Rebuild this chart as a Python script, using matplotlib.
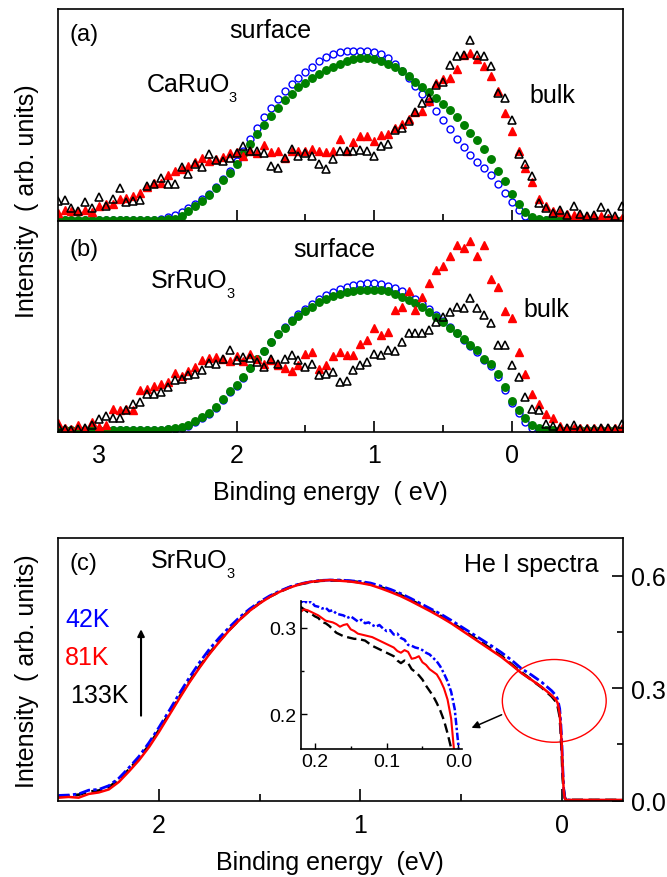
import matplotlib
matplotlib.use("Agg")
import matplotlib.pyplot as plt
from matplotlib.patches import Ellipse
from matplotlib.ticker import FixedLocator, NullLocator

plt.rcParams['font.family'] = ['Liberation Sans', 'DejaVu Sans']
plt.rcParams['axes.linewidth'] = 1.2

# ---------------- panels (a) and (b): decomposed spectra ----------------
energy_ab = [3.30, 3.25, 3.20, 3.15, 3.10, 3.05, 3.00, 2.95, 2.90, 2.85,
             2.80, 2.75, 2.70, 2.65, 2.60, 2.55, 2.50, 2.45, 2.40, 2.35,
             2.30, 2.25, 2.20, 2.15, 2.10, 2.05, 2.00, 1.95, 1.90, 1.85,
             1.80, 1.75, 1.70, 1.65, 1.60, 1.55, 1.50, 1.45, 1.40, 1.35,
             1.30, 1.25, 1.20, 1.15, 1.10, 1.05, 1.00, 0.95, 0.90, 0.85,
             0.80, 0.75, 0.70, 0.65, 0.60, 0.55, 0.50, 0.45, 0.40, 0.35,
             0.30, 0.25, 0.20, 0.15, 0.10, 0.05, 0.00, -0.05, -0.10, -0.15,
             -0.20, -0.25, -0.30, -0.35, -0.40, -0.45, -0.50, -0.55, -0.60, -0.65,
             -0.70, -0.75, -0.80]

# CaRuO3
ca_surface_open = [0.002, 0.002, 0.002, 0.002, 0.002, 0.002, 0.002, 0.002, 0.002, 0.002,
                   0.002, 0.002, 0.002, 0.002, 0.003, 0.005, 0.016, 0.028, 0.041, 0.057,
                   0.076, 0.100, 0.126, 0.158, 0.194, 0.234, 0.281, 0.329, 0.384, 0.436,
                   0.487, 0.531, 0.573, 0.610, 0.645, 0.676, 0.703, 0.728, 0.752, 0.771,
                   0.787, 0.798, 0.802, 0.803, 0.803, 0.803, 0.799, 0.787, 0.768, 0.739,
                   0.708, 0.673, 0.637, 0.597, 0.561, 0.518, 0.476, 0.431, 0.387, 0.348,
                   0.310, 0.278, 0.246, 0.215, 0.171, 0.128, 0.088, 0.052, 0.020, 0.005,
                   0.002, 0.002, 0.002, 0.002, 0.002, 0.002, 0.002, 0.002, 0.002, 0.002,
                   0.002, 0.002, 0.002]
ca_surface_fill = [0.004, 0.004, 0.004, 0.004, 0.004, 0.004, 0.004, 0.004, 0.004, 0.004,
                   0.004, 0.004, 0.004, 0.004, 0.004, 0.004, 0.005, 0.008, 0.019, 0.044,
                   0.068, 0.092, 0.120, 0.152, 0.190, 0.226, 0.269, 0.313, 0.360, 0.408,
                   0.452, 0.494, 0.534, 0.569, 0.600, 0.629, 0.652, 0.676, 0.695, 0.712,
                   0.727, 0.739, 0.755, 0.763, 0.766, 0.766, 0.763, 0.755, 0.742, 0.724,
                   0.705, 0.682, 0.657, 0.629, 0.608, 0.578, 0.550, 0.521, 0.487, 0.452,
                   0.415, 0.379, 0.336, 0.289, 0.234, 0.186, 0.126, 0.079, 0.041, 0.016,
                   0.008, 0.004, 0.004, 0.004, 0.004, 0.004, 0.004, 0.004, 0.004, 0.004,
                   0.004, 0.004, 0.004]
ca_bulk_fill = [0.036, 0.052, 0.047, 0.044, 0.052, 0.041, 0.068, 0.079, 0.076, 0.100,
                0.107, 0.115, 0.131, 0.158, 0.175, 0.178, 0.215, 0.234, 0.242, 0.258,
                0.276, 0.297, 0.281, 0.289, 0.300, 0.321, 0.325, 0.305, 0.329, 0.321,
                0.357, 0.324, 0.329, 0.297, 0.329, 0.329, 0.329, 0.336, 0.329, 0.326,
                0.329, 0.384, 0.329, 0.373, 0.400, 0.400, 0.376, 0.404, 0.408, 0.439,
                0.458, 0.479, 0.515, 0.518, 0.566, 0.651, 0.667, 0.676, 0.716, 0.784,
                0.790, 0.763, 0.730, 0.684, 0.610, 0.510, 0.423, 0.329, 0.246, 0.183,
                0.100, 0.068, 0.047, 0.041, 0.032, 0.025, 0.025, 0.022, 0.019, 0.019,
                0.013, 0.013, 0.013]
ca_bulk_open = [0.092, 0.095, 0.057, 0.044, 0.088, 0.057, 0.111, 0.068, 0.104, 0.155,
                0.088, 0.092, 0.096, 0.163, 0.174, 0.199, 0.171, 0.171, 0.253, 0.221,
                0.265, 0.253, 0.313, 0.288, 0.281, 0.294, 0.321, 0.352, 0.329, 0.329,
                0.321, 0.258, 0.250, 0.297, 0.336, 0.305, 0.321, 0.305, 0.265, 0.242,
                0.289, 0.329, 0.329, 0.329, 0.332, 0.329, 0.305, 0.352, 0.360, 0.427,
                0.439, 0.471, 0.515, 0.556, 0.581, 0.641, 0.657, 0.733, 0.780, 0.784,
                0.853, 0.784, 0.779, 0.730, 0.605, 0.578, 0.477, 0.316, 0.269, 0.210,
                0.084, 0.057, 0.036, 0.052, 0.028, 0.068, 0.032, 0.020, 0.028, 0.063,
                0.036, 0.020, 0.068]

# SrRuO3
sr_surface_open = [0.012, 0.012, 0.012, 0.012, 0.012, 0.012, 0.012, 0.012, 0.012, 0.012,
                   0.012, 0.012, 0.012, 0.012, 0.012, 0.012, 0.014, 0.017, 0.022, 0.032,
                   0.047, 0.066, 0.088, 0.114, 0.152, 0.188, 0.218, 0.258, 0.302, 0.344,
                   0.384, 0.426, 0.466, 0.499, 0.532, 0.560, 0.584, 0.605, 0.628, 0.646,
                   0.662, 0.675, 0.686, 0.694, 0.700, 0.703, 0.703, 0.700, 0.693, 0.680,
                   0.665, 0.645, 0.628, 0.607, 0.582, 0.553, 0.526, 0.497, 0.468, 0.438,
                   0.407, 0.380, 0.343, 0.312, 0.262, 0.200, 0.140, 0.090, 0.050, 0.022,
                   0.012, 0.010, 0.010, 0.010, 0.010, 0.010, 0.010, 0.010, 0.010, 0.010,
                   0.010, 0.010, 0.010]
sr_surface_fill = [0.012, 0.012, 0.012, 0.012, 0.012, 0.012, 0.012, 0.012, 0.012, 0.012,
                   0.012, 0.012, 0.012, 0.012, 0.012, 0.012, 0.016, 0.019, 0.025, 0.035,
                   0.051, 0.070, 0.092, 0.119, 0.158, 0.193, 0.222, 0.261, 0.304, 0.345,
                   0.383, 0.424, 0.462, 0.494, 0.525, 0.551, 0.573, 0.592, 0.614, 0.630,
                   0.642, 0.652, 0.661, 0.668, 0.672, 0.672, 0.671, 0.671, 0.665, 0.652,
                   0.639, 0.623, 0.609, 0.592, 0.570, 0.544, 0.522, 0.494, 0.467, 0.440,
                   0.411, 0.388, 0.348, 0.324, 0.275, 0.214, 0.150, 0.103, 0.066, 0.035,
                   0.019, 0.012, 0.012, 0.012, 0.012, 0.012, 0.012, 0.012, 0.012, 0.012,
                   0.012, 0.012, 0.012]
sr_bulk_fill = [0.044, 0.019, 0.016, 0.035, 0.016, 0.047, 0.024, 0.035, 0.108, 0.103,
                0.108, 0.103, 0.198, 0.206, 0.218, 0.229, 0.237, 0.282, 0.266, 0.288,
                0.309, 0.340, 0.351, 0.356, 0.348, 0.335, 0.361, 0.335, 0.372, 0.345,
                0.324, 0.340, 0.316, 0.304, 0.288, 0.316, 0.372, 0.380, 0.300, 0.316,
                0.361, 0.380, 0.364, 0.364, 0.415, 0.435, 0.491, 0.459, 0.475, 0.578,
                0.593, 0.665, 0.578, 0.641, 0.704, 0.767, 0.783, 0.831, 0.886, 0.870,
                0.902, 0.831, 0.886, 0.723, 0.688, 0.573, 0.538, 0.377, 0.277, 0.182,
                0.134, 0.087, 0.066, 0.028, 0.019, 0.019, 0.019, 0.019, 0.019, 0.019,
                0.019, 0.019, 0.019]
sr_bulk_open = [0.028, 0.016, 0.013, 0.016, 0.019, 0.035, 0.063, 0.076, 0.066, 0.066,
                0.103, 0.134, 0.142, 0.182, 0.182, 0.190, 0.214, 0.245, 0.253, 0.269,
                0.277, 0.293, 0.329, 0.324, 0.345, 0.388, 0.340, 0.356, 0.351, 0.332,
                0.309, 0.348, 0.324, 0.348, 0.364, 0.340, 0.309, 0.324, 0.269, 0.277,
                0.285, 0.237, 0.241, 0.293, 0.316, 0.332, 0.372, 0.364, 0.388, 0.383,
                0.427, 0.467, 0.467, 0.467, 0.483, 0.522, 0.546, 0.570, 0.593, 0.585,
                0.633, 0.585, 0.554, 0.514, 0.411, 0.411, 0.316, 0.261, 0.166, 0.111,
                0.103, 0.040, 0.032, 0.019, 0.019, 0.035, 0.016, 0.016, 0.016, 0.019,
                0.019, 0.016, 0.040]

ab_ticks = [3, 2, 1, 0]
ab_minor_ticks = [1.5, 0.5]

# ---------------- panel (c): He I spectra at three temperatures ----------------
energy_c = [2.50, 2.45, 2.40, 2.35, 2.30, 2.25, 2.20, 2.15, 2.10, 2.05,
            2.00, 1.95, 1.90, 1.85, 1.80, 1.75, 1.70, 1.65, 1.60, 1.55,
            1.50, 1.45, 1.40, 1.35, 1.30, 1.25, 1.20, 1.15, 1.10, 1.05,
            1.00, 0.95, 0.90, 0.85, 0.80, 0.75, 0.70, 0.65, 0.60, 0.55,
            0.50, 0.45, 0.40, 0.35, 0.30, 0.25, 0.20, 0.15, 0.10, 0.05,
            0.03, 0.02, 0.01, 0.005, 0.0, -0.005, -0.01, -0.015, -0.02, -0.05,
            -0.10, -0.20, -0.30]
spec_42K = [0.014, 0.015, 0.018, 0.028, 0.030, 0.040, 0.060, 0.088, 0.118, 0.155,
            0.196, 0.240, 0.285, 0.328, 0.368, 0.404, 0.435, 0.463, 0.489, 0.511,
            0.530, 0.546, 0.559, 0.570, 0.578, 0.583, 0.587, 0.588, 0.588, 0.586,
            0.584, 0.580, 0.572, 0.563, 0.552, 0.539, 0.525, 0.511, 0.497, 0.481,
            0.464, 0.447, 0.430, 0.413, 0.395, 0.375, 0.352, 0.335, 0.316, 0.293,
            0.281, 0.270, 0.245, 0.210, 0.160, 0.090, 0.030, 0.008, 0.003, 0.001,
            0.001, 0.001, 0.001]
spec_81K = [0.008, 0.010, 0.008, 0.018, 0.022, 0.030, 0.050, 0.078, 0.108, 0.143,
            0.184, 0.228, 0.272, 0.315, 0.354, 0.391, 0.424, 0.455, 0.482, 0.506,
            0.526, 0.543, 0.557, 0.568, 0.577, 0.583, 0.586, 0.588, 0.586, 0.584,
            0.580, 0.575, 0.566, 0.556, 0.545, 0.532, 0.518, 0.504, 0.489, 0.473,
            0.455, 0.437, 0.419, 0.401, 0.383, 0.362, 0.340, 0.322, 0.303, 0.281,
            0.270, 0.260, 0.232, 0.195, 0.150, 0.080, 0.025, 0.006, 0.002, 0.002,
            0.002, 0.002, 0.002]
spec_133K = [0.012, 0.013, 0.016, 0.024, 0.027, 0.036, 0.056, 0.083, 0.113, 0.148,
             0.189, 0.232, 0.276, 0.318, 0.357, 0.393, 0.426, 0.456, 0.483, 0.507,
             0.527, 0.544, 0.557, 0.569, 0.577, 0.582, 0.586, 0.587, 0.587, 0.585,
             0.582, 0.577, 0.569, 0.559, 0.548, 0.535, 0.521, 0.507, 0.492, 0.476,
             0.458, 0.440, 0.422, 0.404, 0.386, 0.364, 0.342, 0.322, 0.302, 0.278,
             0.265, 0.252, 0.225, 0.185, 0.130, 0.060, 0.030, 0.010, 0.003, 0.002,
             0.002, 0.002, 0.002]

# close-up of the Fermi edge
energy_edge = [0.220, 0.215, 0.210, 0.205, 0.200, 0.195, 0.190, 0.185, 0.180, 0.175,
               0.170, 0.165, 0.160, 0.155, 0.150, 0.145, 0.140, 0.135, 0.130, 0.125,
               0.120, 0.115, 0.110, 0.105, 0.100, 0.095, 0.090, 0.085, 0.080, 0.075,
               0.070, 0.065, 0.060, 0.055, 0.050, 0.045, 0.040, 0.035, 0.030, 0.025,
               0.020, 0.015, 0.010, 0.005, 0.000, -0.005]
edge_42K = [0.329, 0.331, 0.328, 0.330, 0.325, 0.324, 0.322, 0.323, 0.319, 0.320,
            0.316, 0.315, 0.314, 0.311, 0.313, 0.310, 0.307, 0.309, 0.305, 0.306,
            0.303, 0.301, 0.303, 0.299, 0.296, 0.297, 0.292, 0.293, 0.288, 0.286,
            0.280, 0.279, 0.277, 0.276, 0.274, 0.271, 0.269, 0.265, 0.261, 0.255,
            0.247, 0.238, 0.226, 0.206, 0.165, 0.110]
edge_81K = [0.318, 0.321, 0.320, 0.318, 0.316, 0.314, 0.311, 0.308, 0.307, 0.306,
            0.304, 0.301, 0.303, 0.304, 0.298, 0.296, 0.293, 0.292, 0.291, 0.290,
            0.289, 0.287, 0.285, 0.283, 0.281, 0.279, 0.277, 0.273, 0.271, 0.274,
            0.272, 0.264, 0.265, 0.267, 0.260, 0.257, 0.252, 0.249, 0.246, 0.239,
            0.230, 0.217, 0.195, 0.150, 0.100, 0.050]
edge_133K = [0.324, 0.321, 0.318, 0.316, 0.313, 0.311, 0.306, 0.305, 0.302, 0.298,
             0.294, 0.292, 0.290, 0.289, 0.288, 0.287, 0.287, 0.286, 0.285, 0.282,
             0.279, 0.277, 0.275, 0.273, 0.271, 0.269, 0.267, 0.262, 0.259, 0.262,
             0.259, 0.252, 0.249, 0.245, 0.240, 0.233, 0.227, 0.221, 0.213, 0.204,
             0.193, 0.178, 0.161, 0.125, 0.070, 0.030]

temps = ['42K', '81K', '133K']
temp_colors = ['#0000ff', '#ff0000', 'black']

# ---------------- layout ----------------
W, H = 667, 878
fig = plt.figure(figsize=(W / 100, H / 100), dpi=100)


def box(left, top, right, bottom):
    return [left / W, 1 - bottom / H, (right - left) / W, (bottom - top) / H]


def put(x, y, s, **kw):
    return fig.text(x / W, 1 - y / H, s, **kw)


ax_a = fig.add_axes(box(57.7, 10, 622.7, 221.5))
ax_b = fig.add_axes(box(57.7, 221.5, 622.7, 433.3))
ax_c = fig.add_axes(box(57.7, 539, 622.7, 801.7))
ax_in = fig.add_axes(box(300.5, 601.7, 461.9, 750))


def spectrum_panel(ax, surf_open, surf_fill, bulk_fill, bulk_open, show_labels):
    ax.plot(energy_ab, surf_open, ls='none', marker='o', ms=5.0,
            mfc='white', mec='#0000ff', mew=1.0)
    ax.plot(energy_ab, surf_fill, ls='none', marker='o', ms=5.4,
            color='#008000', mec='#008000')
    ax.plot(energy_ab, bulk_fill, ls='none', marker='^', ms=6.3,
            color='#ff0000', mec='#ff0000')
    ax.plot(energy_ab, bulk_open, ls='none', marker='^', ms=6.3,
            mfc='none', mec='black', mew=1.15)
    ax.set_xlim(3.30, -0.807)
    ax.set_ylim(0, 1)
    ax.yaxis.set_major_locator(NullLocator())
    ax.xaxis.set_major_locator(FixedLocator(ab_ticks))
    ax.xaxis.set_minor_locator(FixedLocator(ab_minor_ticks))
    ax.tick_params(axis='x', which='both', direction='in', top=False, bottom=True,
                   width=1.2, labelsize=18, pad=8, labelbottom=show_labels)
    ax.tick_params(axis='x', which='major', length=8)
    ax.tick_params(axis='x', which='minor', length=4.8)
    ax.tick_params(axis='y', left=False, right=False, labelleft=False)
    # the outermost label has no tick mark drawn
    ax.xaxis.get_major_ticks()[0].tick1line.set_visible(False)


spectrum_panel(ax_a, ca_surface_open, ca_surface_fill, ca_bulk_fill, ca_bulk_open, False)
spectrum_panel(ax_b, sr_surface_open, sr_surface_fill, sr_bulk_fill, sr_bulk_open, True)

# panel (c) curves
ax_c.plot(energy_c, spec_133K, color='black', lw=2.0, dashes=(4, 2))
ax_c.plot(energy_c, spec_42K, color='#0000ff', lw=2.0, dashes=(4, 1.2, 1.2, 1.2))
ax_c.plot(energy_c, spec_81K, color='#ff0000', lw=1.8)
ax_c.set_xlim(2.504, -0.303)
ax_c.set_ylim(0, 0.70)
ax_c.xaxis.set_major_locator(FixedLocator([2, 1, 0]))
ax_c.xaxis.set_minor_locator(FixedLocator([1.5, 0.5]))
ax_c.yaxis.set_major_locator(FixedLocator([0.0, 0.3, 0.6]))
ax_c.yaxis.set_minor_locator(FixedLocator([0.15, 0.45]))
ax_c.tick_params(axis='x', which='both', direction='in', top=False, bottom=True,
                 width=1.2, labelsize=18, pad=9)
ax_c.tick_params(axis='x', which='major', length=9)
ax_c.tick_params(axis='x', which='minor', length=5)
ax_c.tick_params(axis='y', which='both', direction='in', left=False, right=True,
                 labelleft=False, labelright=True, width=1.2, labelsize=18, pad=6)
ax_c.tick_params(axis='y', which='major', length=8)
ax_c.tick_params(axis='y', which='minor', length=4.5)

# highlighted region near the Fermi level and pointer to the close-up
ax_c.add_patch(Ellipse((0.037, 0.266), 0.516, 0.2205, fill=False,
                       edgecolor='#ff0000', lw=1.0))
ax_c.annotate('', xy=(0.448, 0.194), xytext=(0.2985, 0.229),
              arrowprops=dict(arrowstyle='-|>', color='black', lw=1.1,
                              mutation_scale=11, shrinkA=0, shrinkB=0))
ax_c.annotate('', xy=(2.09, 0.457), xytext=(2.09, 0.2266),
              arrowprops=dict(arrowstyle='-|>', color='black', lw=1.5,
                              mutation_scale=10, shrinkA=0, shrinkB=0))

# inset close-up
ax_in.patch.set_alpha(0)
ax_in.plot(energy_edge, edge_133K, color='black', lw=1.7, dashes=(4, 2))
ax_in.plot(energy_edge, edge_81K, color='#ff0000', lw=1.5)
ax_in.plot(energy_edge, edge_42K, color='#0000ff', lw=1.8, dashes=(3, 1, 1, 1))
ax_in.set_xlim(0.220, -0.005)
ax_in.set_ylim(0.16, 0.331)
ax_in.spines['top'].set_visible(False)
ax_in.spines['right'].set_visible(False)
ax_in.xaxis.set_major_locator(FixedLocator([0.2, 0.1, 0.0]))
ax_in.xaxis.set_minor_locator(FixedLocator([0.15, 0.05]))
ax_in.yaxis.set_major_locator(FixedLocator([0.2, 0.3]))
ax_in.yaxis.set_minor_locator(FixedLocator([0.25]))
ax_in.tick_params(which='both', direction='in', top=False, right=False,
                  width=1.0, labelsize=14, pad=3)
ax_in.tick_params(which='major', length=4)
ax_in.tick_params(which='minor', length=2.5)

# ---------------- text ----------------
TXT = 18


def formula(x, y, main, sub):
    t = put(x, y, main, fontsize=TXT, ha='left', va='baseline')
    ax_c.annotate(sub, xy=(1, 0), xycoords=t, xytext=(-0.8, -0.6),
                  textcoords='offset points', fontsize=10.5,
                  ha='left', va='center')


put(84, 35, '(a)', fontsize=17, ha='center', va='center')
put(270, 38.3, 'surface', fontsize=TXT, ha='center', va='baseline')
formula(146.7, 92.3, 'CaRuO', '3')
put(529, 103.3, 'bulk', fontsize=TXT, ha='left', va='baseline')

put(84, 250, '(b)', fontsize=17, ha='center', va='center')
put(334.5, 257.3, 'surface', fontsize=TXT, ha='center', va='baseline')
formula(151, 288.3, 'SrRuO', '3')
put(523, 316.7, 'bulk', fontsize=TXT, ha='left', va='baseline')

put(83.3, 564, '(c)', fontsize=17, ha='center', va='center')
formula(151, 568.3, 'SrRuO', '3')
put(598.3, 572.3, 'He I spectra', fontsize=TXT, ha='right', va='baseline')
for name, col, (tx, ty) in zip(temps, temp_colors, [(65, 626.7), (65, 665), (70, 703.3)]):
    put(tx, ty, name, fontsize=TXT, color=col, ha='left', va='baseline')

put(330.6, 493, 'Binding energy  ( eV)', fontsize=TXT, ha='center', va='center')
put(329.6, 863, 'Binding energy  (eV)', fontsize=TXT, ha='center', va='center')
put(27, 201.5, 'Intensity  ( arb. units)', fontsize=TXT, rotation=90,
    ha='center', va='center')
put(27, 671.5, 'Intensity  ( arb. units)', fontsize=TXT, rotation=90,
    ha='center', va='center')

fig.savefig('out.png', dpi=100)
